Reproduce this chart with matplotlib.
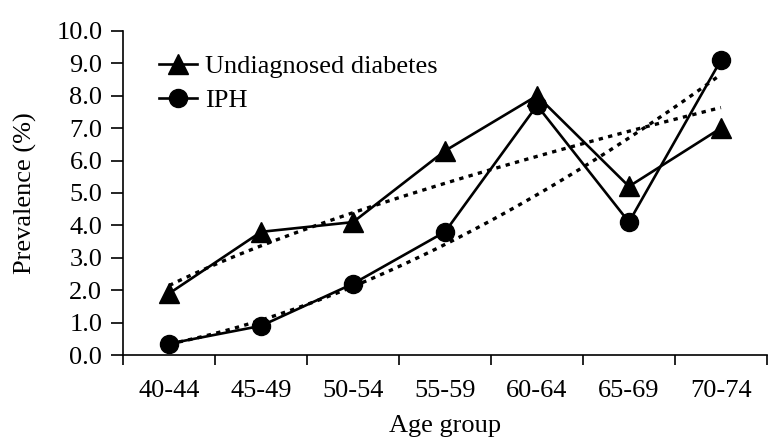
import numpy as np
import matplotlib
matplotlib.use("Agg")
import matplotlib.pyplot as plt

# datos
grupos = ["40-44", "45-49", "50-54", "55-59", "60-64", "65-69", "70-74"]
diabetes_no_diag = [1.9, 3.8, 4.1, 6.3, 8.0, 5.2, 7.0]
iph = [0.35, 0.9, 2.2, 3.8, 7.7, 4.1, 9.1]

plt.rcParams['font.family'] = ['Liberation Serif', 'DejaVu Serif']

fig = plt.figure(figsize=(7.7, 4.41), dpi=100)
ax = fig.add_axes([0.16, 0.195, 0.836, 0.735])

x = np.arange(len(grupos))


def tendencia_potencial(valores):
    # linea de tendencia tipo potencia (como la de Excel), x = 1..n
    xs = np.arange(1, len(valores) + 1)
    b, lna = np.polyfit(np.log(xs), np.log(valores), 1)
    xf = np.linspace(1, len(valores), 200)
    return xf - 1, np.exp(lna) * xf ** b


estilo_punteado = (0, (1.3, 1.6))
for serie in (diabetes_no_diag, iph):
    xt, yt = tendencia_potencial(serie)
    ax.plot(xt, yt, color='black', lw=2.4, linestyle=estilo_punteado, zorder=2)

ax.plot(x, diabetes_no_diag, color='black', lw=1.9, marker='^', ms=14,
        label='Undiagnosed diabetes', zorder=3)
ax.plot(x, iph, color='black', lw=1.9, marker='o', ms=13,
        label='IPH', zorder=3)

ax.set_xlim(-0.5, 6.5)
ax.set_ylim(0, 10)
ax.set_yticks(np.arange(0, 11, 1))
ax.set_yticklabels([f"{v:.1f}" for v in range(11)], fontsize=19)
ax.set_xticks(x)
ax.set_xticklabels(grupos, fontsize=19)
ax.set_xticks(np.arange(-0.5, 7, 1), minor=True)
ax.tick_params(axis='x', which='major', length=0, pad=18)
ax.tick_params(axis='x', which='minor', length=7, width=1.2, direction='out')
ax.tick_params(axis='y', length=9, width=1.2, direction='out', pad=6)

for lado in ('top', 'right'):
    ax.spines[lado].set_visible(False)
for lado in ('left', 'bottom'):
    ax.spines[lado].set_linewidth(1.2)

ax.set_ylabel('Prevalence (%)', fontsize=19, labelpad=14)
ax.set_xlabel('Age group', fontsize=19, labelpad=9)

ax.legend(loc='upper left', bbox_to_anchor=(0.055, 0.926), frameon=False,
          fontsize=19, handlelength=1.45, handletextpad=0.3, labelspacing=0.4,
          borderpad=0, borderaxespad=0)

fig.savefig('out.png', dpi=100)
